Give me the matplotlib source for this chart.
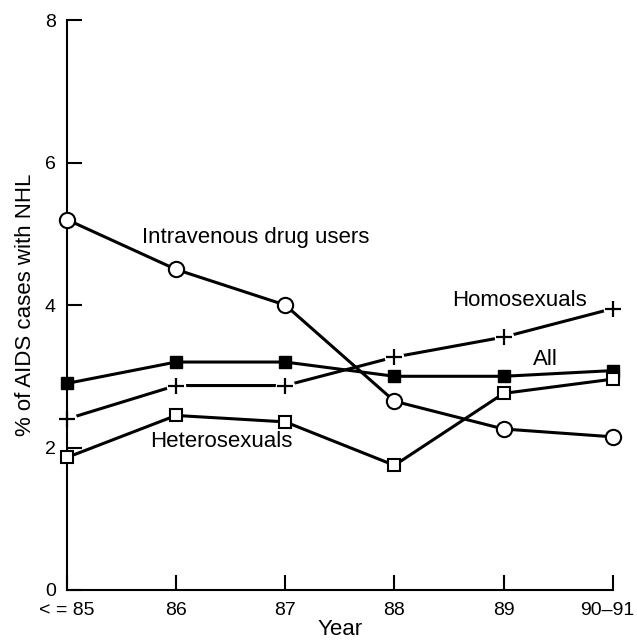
import matplotlib.pyplot as plt
import matplotlib.transforms as mtransforms
import numpy as np

plt.rcParams['font.family'] = ['Liberation Sans', 'DejaVu Sans']

years = ['< = 85', '86', '87', '88', '89', '90\u201391']
ivdu = [5.2, 4.5, 4.0, 2.65, 2.26, 2.15]
all_cases = [2.9, 3.2, 3.2, 3.0, 3.0, 3.08]
homosexuals = [2.4, 2.87, 2.87, 3.27, 3.55, 3.95]
heterosexuals = [1.86, 2.45, 2.36, 1.75, 2.76, 2.96]

x = np.arange(len(years))

fig = plt.figure(figsize=(6.37, 6.41), dpi=100)
ax = fig.add_axes([0.105, 0.0796, 0.857, 0.889])

lw = 2.2
# homosexuals: line broken around the plus markers
ax.plot(x, homosexuals, color='black', lw=lw, zorder=2, clip_on=False)
ax.plot(x, homosexuals, 'o', ms=14, mfc='white', mec='none', zorder=2.3, clip_on=False)
ax.plot(x, homosexuals, '+', ms=12, mew=1.6, color='black', zorder=4, clip_on=False)

ax.plot(x, ivdu, '-o', color='black', lw=lw, ms=11, mfc='white', mec='black', mew=1.5,
        zorder=3, clip_on=False)
ax.plot(x, all_cases, '-s', color='black', lw=lw, ms=9, mfc='black', mec='black',
        zorder=3, clip_on=False)
ax.plot(x, heterosexuals, '-s', color='black', lw=lw, ms=9, mfc='white', mec='black', mew=1.5,
        zorder=3, clip_on=False)

fs = 16
ax.text(0.69, 4.95, 'Intravenous drug users', fontsize=fs, va='center')
ax.text(0.76, 2.08, 'Heterosexuals', fontsize=fs, va='center')
ax.text(3.53, 4.06, 'Homosexuals', fontsize=fs, va='center')
ax.text(4.27, 3.23, 'All', fontsize=fs, va='center')

ax.set_xlim(0, 5)
ax.set_ylim(0, 8)
ax.set_xticks(x)
ax.set_xticklabels(years)
ax.set_yticks([0, 2, 4, 6, 8])
ax.tick_params(direction='in', length=11, width=1.5, labelsize=14)
ax.tick_params(axis='x', pad=9)
ax.tick_params(axis='y', pad=8)
ax.spines['top'].set_visible(False)
ax.spines['right'].set_visible(False)
for s in ['left', 'bottom']:
    ax.spines[s].set_linewidth(1.5)

# last label sits against the right edge of the figure
last = ax.get_xticklabels()[-1]
last.set_ha('right')
last.set_transform(last.get_transform() + mtransforms.ScaledTranslation(0.22, 0, fig.dpi_scale_trans))

ax.set_xlabel('Year', fontsize=fs, labelpad=0)
ax.set_ylabel('% of AIDS cases with NHL', fontsize=fs, labelpad=6)

fig.savefig('out.png', dpi=100)
